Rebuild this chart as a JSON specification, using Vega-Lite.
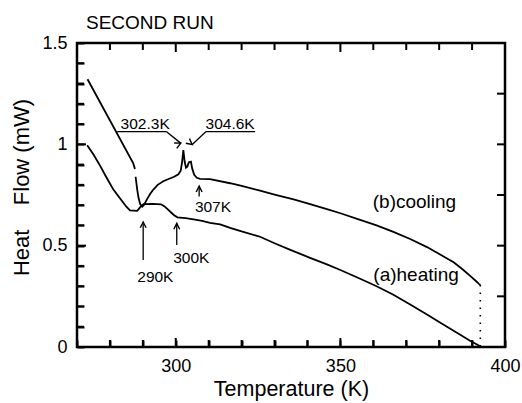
{
  "$schema": "https://vega.github.io/schema/vega-lite/v6.json",
  "width": 428,
  "height": 304,
  "autosize": {"type": "none"},
  "padding": {"left": 77, "top": 43, "right": 17, "bottom": 56},
  "background": "white",
  "title": {"text": "SECOND RUN", "anchor": "start", "frame": "group", "dx": 9, "offset": 1, "fontSize": 19, "fontWeight": "normal", "font": "Liberation Sans", "color": "black"},
  "config": {
    "view": {"stroke": "black", "strokeWidth": 2.5},
    "font": "Liberation Sans",
    "axis": {"grid": false, "domain": false, "ticks": true, "tickOpacity": 1, "tickColor": "black", "tickWidth": 2, "labelColor": "black", "titleColor": "black", "labelFont": "Liberation Sans", "titleFont": "Liberation Sans", "labelFontSize": 18, "titleFontSize": 21.5, "titleFontWeight": "normal", "labelOverlap": false, "labelFlush": false, "zindex": 1}
  },
  "datasets": {
    "curves": [
      {"series": "cooling", "seg": "c1", "T": 273.2, "HF": 1.321},
      {"series": "cooling", "seg": "c1", "T": 287.1, "HF": 0.906},
      {"series": "cooling", "seg": "c1", "T": 287.6, "HF": 0.878},
      {"series": "cooling", "seg": "c2", "T": 287.8, "HF": 0.840},
      {"series": "cooling", "seg": "c2", "T": 288.3, "HF": 0.775},
      {"series": "cooling", "seg": "c2", "T": 288.7, "HF": 0.735},
      {"series": "cooling", "seg": "c2", "T": 289.2, "HF": 0.705},
      {"series": "cooling", "seg": "c2", "T": 289.8, "HF": 0.692},
      {"series": "cooling", "seg": "c2", "T": 290.3, "HF": 0.700},
      {"series": "cooling", "seg": "c2", "T": 291.2, "HF": 0.727},
      {"series": "cooling", "seg": "c2", "T": 292.2, "HF": 0.755},
      {"series": "cooling", "seg": "c2", "T": 293.2, "HF": 0.777},
      {"series": "cooling", "seg": "c2", "T": 294.5, "HF": 0.800},
      {"series": "cooling", "seg": "c2", "T": 296.2, "HF": 0.818},
      {"series": "cooling", "seg": "c2", "T": 298.0, "HF": 0.830},
      {"series": "cooling", "seg": "c2", "T": 299.5, "HF": 0.840},
      {"series": "cooling", "seg": "c2", "T": 300.8, "HF": 0.852},
      {"series": "cooling", "seg": "c2", "T": 301.5, "HF": 0.870},
      {"series": "cooling", "seg": "c2", "T": 301.9, "HF": 0.910},
      {"series": "cooling", "seg": "c2", "T": 302.3, "HF": 0.972},
      {"series": "cooling", "seg": "c2", "T": 302.7, "HF": 0.915},
      {"series": "cooling", "seg": "c2", "T": 303.1, "HF": 0.885},
      {"series": "cooling", "seg": "c2", "T": 303.5, "HF": 0.890},
      {"series": "cooling", "seg": "c2", "T": 304.0, "HF": 0.912},
      {"series": "cooling", "seg": "c2", "T": 304.6, "HF": 0.915},
      {"series": "cooling", "seg": "c2", "T": 305.0, "HF": 0.880},
      {"series": "cooling", "seg": "c2", "T": 305.6, "HF": 0.850},
      {"series": "cooling", "seg": "c2", "T": 306.4, "HF": 0.835},
      {"series": "cooling", "seg": "c2", "T": 307.4, "HF": 0.830},
      {"series": "cooling", "seg": "c2", "T": 310.4, "HF": 0.828},
      {"series": "cooling", "seg": "c2", "T": 316.5, "HF": 0.808},
      {"series": "cooling", "seg": "c2", "T": 320.0, "HF": 0.795},
      {"series": "cooling", "seg": "c2", "T": 325.6, "HF": 0.771},
      {"series": "cooling", "seg": "c2", "T": 330.0, "HF": 0.752},
      {"series": "cooling", "seg": "c2", "T": 335.8, "HF": 0.728},
      {"series": "cooling", "seg": "c2", "T": 340.8, "HF": 0.705},
      {"series": "cooling", "seg": "c2", "T": 345.9, "HF": 0.680},
      {"series": "cooling", "seg": "c2", "T": 350.0, "HF": 0.660},
      {"series": "cooling", "seg": "c2", "T": 356.0, "HF": 0.627},
      {"series": "cooling", "seg": "c2", "T": 361.0, "HF": 0.600},
      {"series": "cooling", "seg": "c2", "T": 366.1, "HF": 0.568},
      {"series": "cooling", "seg": "c2", "T": 371.2, "HF": 0.533},
      {"series": "cooling", "seg": "c2", "T": 376.3, "HF": 0.493},
      {"series": "cooling", "seg": "c2", "T": 380.3, "HF": 0.456},
      {"series": "cooling", "seg": "c2", "T": 384.4, "HF": 0.418},
      {"series": "cooling", "seg": "c2", "T": 387.0, "HF": 0.385},
      {"series": "cooling", "seg": "c2", "T": 389.5, "HF": 0.350},
      {"series": "cooling", "seg": "c2", "T": 391.0, "HF": 0.328},
      {"series": "cooling", "seg": "c2", "T": 392.0, "HF": 0.313},
      {"series": "cooling", "seg": "c2", "T": 392.5, "HF": 0.306},
      {"series": "heating", "seg": "h", "T": 273.1, "HF": 0.995},
      {"series": "heating", "seg": "h", "T": 275.0, "HF": 0.950},
      {"series": "heating", "seg": "h", "T": 277.0, "HF": 0.895},
      {"series": "heating", "seg": "h", "T": 279.0, "HF": 0.835},
      {"series": "heating", "seg": "h", "T": 281.0, "HF": 0.778},
      {"series": "heating", "seg": "h", "T": 283.1, "HF": 0.733},
      {"series": "heating", "seg": "h", "T": 285.0, "HF": 0.692},
      {"series": "heating", "seg": "h", "T": 286.1, "HF": 0.674},
      {"series": "heating", "seg": "h", "T": 288.3, "HF": 0.672},
      {"series": "heating", "seg": "h", "T": 289.2, "HF": 0.690},
      {"series": "heating", "seg": "h", "T": 290.2, "HF": 0.705},
      {"series": "heating", "seg": "h", "T": 293.0, "HF": 0.706},
      {"series": "heating", "seg": "h", "T": 295.5, "HF": 0.704},
      {"series": "heating", "seg": "h", "T": 296.5, "HF": 0.695},
      {"series": "heating", "seg": "h", "T": 297.5, "HF": 0.680},
      {"series": "heating", "seg": "h", "T": 298.5, "HF": 0.665},
      {"series": "heating", "seg": "h", "T": 299.5, "HF": 0.650},
      {"series": "heating", "seg": "h", "T": 300.5, "HF": 0.640},
      {"series": "heating", "seg": "h", "T": 303.0, "HF": 0.636},
      {"series": "heating", "seg": "h", "T": 305.4, "HF": 0.630},
      {"series": "heating", "seg": "h", "T": 308.0, "HF": 0.622},
      {"series": "heating", "seg": "h", "T": 310.4, "HF": 0.612},
      {"series": "heating", "seg": "h", "T": 313.5, "HF": 0.605},
      {"series": "heating", "seg": "h", "T": 316.5, "HF": 0.588},
      {"series": "heating", "seg": "h", "T": 320.0, "HF": 0.570},
      {"series": "heating", "seg": "h", "T": 325.6, "HF": 0.544},
      {"series": "heating", "seg": "h", "T": 330.0, "HF": 0.512},
      {"series": "heating", "seg": "h", "T": 334.8, "HF": 0.479},
      {"series": "heating", "seg": "h", "T": 340.8, "HF": 0.440},
      {"series": "heating", "seg": "h", "T": 345.9, "HF": 0.408},
      {"series": "heating", "seg": "h", "T": 350.0, "HF": 0.380},
      {"series": "heating", "seg": "h", "T": 356.0, "HF": 0.337},
      {"series": "heating", "seg": "h", "T": 361.0, "HF": 0.300},
      {"series": "heating", "seg": "h", "T": 366.1, "HF": 0.258},
      {"series": "heating", "seg": "h", "T": 371.2, "HF": 0.210},
      {"series": "heating", "seg": "h", "T": 376.3, "HF": 0.160},
      {"series": "heating", "seg": "h", "T": 381.0, "HF": 0.113},
      {"series": "heating", "seg": "h", "T": 386.4, "HF": 0.060},
      {"series": "heating", "seg": "h", "T": 389.5, "HF": 0.030},
      {"series": "heating", "seg": "h", "T": 391.5, "HF": 0.012},
      {"series": "heating", "seg": "h", "T": 392.5, "HF": 0.003}
    ],
    "drop": [
      {"T": 392.5, "HF": 0.306},
      {"T": 392.5, "HF": 0.0}
    ],
    "segments": [
      {"T": 282.2, "HF": 1.063, "T2": 297.1, "HF2": 1.063},
      {"T": 297.1, "HF": 1.063, "T2": 301.5, "HF2": 1.006},
      {"T": 309.2, "HF": 1.063, "T2": 324.1, "HF2": 1.063},
      {"T": 309.2, "HF": 1.063, "T2": 305.0, "HF2": 0.999},
      {"T": 290.1, "HF": 0.429, "T2": 290.1, "HF2": 0.617},
      {"T": 300.3, "HF": 0.503, "T2": 300.3, "HF2": 0.610},
      {"T": 307.1, "HF": 0.742, "T2": 307.1, "HF2": 0.794}
    ],
    "heads": [
      {"T": 290.1, "HF": 0.617, "dir": "up"},
      {"T": 300.3, "HF": 0.610, "dir": "up"},
      {"T": 307.1, "HF": 0.794, "dir": "up"},
      {"T": 301.5, "HF": 1.006, "dir": "down-right"},
      {"T": 305.0, "HF": 0.999, "dir": "down-left"}
    ],
    "notes": [
      {"T": 290.7, "HF": 1.076, "text": "302.3K"},
      {"T": 316.5, "HF": 1.076, "text": "304.6K"},
      {"T": 311.3, "HF": 0.668, "text": "307K"},
      {"T": 293.8, "HF": 0.322, "text": "290K"},
      {"T": 304.7, "HF": 0.414, "text": "300K"}
    ],
    "labels": [
      {"T": 372.5, "HF": 0.684, "text": "(b)cooling"},
      {"T": 373.0, "HF": 0.326, "text": "(a)heating"}
    ],
    "xticks": [
      {"T": 280, "kind": "minor"}, {"T": 290, "kind": "minor"}, {"T": 300, "kind": "major"},
      {"T": 310, "kind": "minor"}, {"T": 320, "kind": "minor"}, {"T": 330, "kind": "minor"},
      {"T": 340, "kind": "minor"}, {"T": 350, "kind": "major"}, {"T": 360, "kind": "minor"},
      {"T": 370, "kind": "minor"}, {"T": 380, "kind": "minor"}, {"T": 390, "kind": "minor"}
    ],
    "yticks": [
      {"HF": 0.1, "kind": "minor"}, {"HF": 0.2, "kind": "minor"}, {"HF": 0.3, "kind": "minor"},
      {"HF": 0.4, "kind": "minor"}, {"HF": 0.5, "kind": "major"}, {"HF": 0.6, "kind": "minor"},
      {"HF": 0.7, "kind": "minor"}, {"HF": 0.8, "kind": "minor"}, {"HF": 0.9, "kind": "minor"},
      {"HF": 1.0, "kind": "major"}, {"HF": 1.1, "kind": "minor"}, {"HF": 1.2, "kind": "minor"},
      {"HF": 1.3, "kind": "minor"}, {"HF": 1.4, "kind": "minor"}
    ],
    "rticks": [
      {"HF": 0.25}, {"HF": 0.5}, {"HF": 0.75}, {"HF": 1.0}, {"HF": 1.25}
    ]
  },
  "layer": [
    {
      "data": {"name": "curves"},
      "mark": {"type": "line", "color": "black", "strokeWidth": 1.8},
      "encoding": {
        "x": {"field": "T", "type": "quantitative", "scale": {"domain": [270, 400], "nice": false, "zero": false},
          "axis": {"orient": "bottom", "title": "Temperature (K)", "values": [270, 280, 290, 300, 310, 320, 330, 340, 350, 360, 370, 380, 390, 400],
            "labelExpr": "(datum.value == 300 || datum.value == 350 || datum.value == 400) ? datum.label : ''",
            "tickSize": -7, "labelPadding": 17, "titlePadding": 3}},
        "y": {"field": "HF", "type": "quantitative", "scale": {"domain": [0, 1.5], "nice": false, "zero": false},
          "axis": {"orient": "left", "title": "Heat\u00a0\u00a0\u00a0 Flow (mW)", "values": [0, 0.1, 0.2, 0.3, 0.4, 0.5, 0.6, 0.7, 0.8, 0.9, 1, 1.1, 1.2, 1.3, 1.4, 1.5],
            "labelExpr": "(datum.value == 0 || datum.value == 0.5 || datum.value == 1 || datum.value == 1.5) ? format(datum.value, '~g') : ''",
            "tickSize": -7, "labelPadding": 17, "titlePadding": 8, "titleFontSize": 22, "titleY": 144}},
        "detail": {"field": "seg", "type": "nominal"}
      }
    },
    {
      "data": {"name": "drop"},
      "mark": {"type": "line", "color": "black", "strokeWidth": 1.6, "strokeDash": [1.5, 6]},
      "encoding": {
        "x": {"field": "T", "type": "quantitative", "axis": null},
        "y": {"field": "HF", "type": "quantitative", "axis": null}
      }
    },
    {
      "data": {"name": "segments"},
      "mark": {"type": "rule", "color": "black", "strokeWidth": 1.3},
      "encoding": {
        "x": {"field": "T", "type": "quantitative", "axis": null},
        "y": {"field": "HF", "type": "quantitative", "axis": null},
        "x2": {"field": "T2"},
        "y2": {"field": "HF2"}
      }
    },
    {
      "data": {"name": "heads"},
      "mark": {"type": "point", "shape": "M-0.7,1.4L0,0L0.7,1.4", "filled": false, "stroke": "black", "strokeWidth": 1.4, "size": 70, "opacity": 1},
      "encoding": {
        "x": {"field": "T", "type": "quantitative", "axis": null},
        "y": {"field": "HF", "type": "quantitative", "axis": null},
        "angle": {"field": "dir", "type": "nominal", "scale": {"domain": ["up", "down-right", "down-left"], "range": [0, 128, 227]}, "legend": null}
      }
    },
    {
      "data": {"name": "notes"},
      "mark": {"type": "text", "font": "Liberation Sans", "fontSize": 15.5, "color": "black", "align": "center", "baseline": "alphabetic"},
      "encoding": {
        "x": {"field": "T", "type": "quantitative", "axis": null},
        "y": {"field": "HF", "type": "quantitative", "axis": null},
        "text": {"field": "text"}
      }
    },
    {
      "data": {"name": "labels"},
      "mark": {"type": "text", "font": "Liberation Sans", "fontSize": 19, "color": "black", "align": "center", "baseline": "alphabetic"},
      "encoding": {
        "x": {"field": "T", "type": "quantitative", "axis": null},
        "y": {"field": "HF", "type": "quantitative", "axis": null},
        "text": {"field": "text"}
      }
    },
    {
      "data": {"name": "xticks"},
      "transform": [{"filter": "datum.kind == 'minor'"}],
      "mark": {"type": "rule", "color": "black", "strokeWidth": 2},
      "encoding": {
        "x": {"field": "T", "type": "quantitative", "axis": null},
        "y": {"datum": 0, "type": "quantitative", "axis": null},
        "y2": {"datum": 0.0345}
      }
    },
    {
      "data": {"name": "xticks"},
      "transform": [{"filter": "datum.kind == 'major'"}],
      "mark": {"type": "rule", "color": "black", "strokeWidth": 2},
      "encoding": {
        "x": {"field": "T", "type": "quantitative", "axis": null},
        "y": {"datum": 0, "type": "quantitative", "axis": null},
        "y2": {"datum": 0.0444}
      }
    },
    {
      "data": {"name": "xticks"},
      "transform": [{"filter": "datum.kind == 'minor'"}],
      "mark": {"type": "rule", "color": "black", "strokeWidth": 2},
      "encoding": {
        "x": {"field": "T", "type": "quantitative", "axis": null},
        "y": {"datum": 1.5, "type": "quantitative", "axis": null},
        "y2": {"datum": 1.4655}
      }
    },
    {
      "data": {"name": "xticks"},
      "transform": [{"filter": "datum.kind == 'major'"}],
      "mark": {"type": "rule", "color": "black", "strokeWidth": 2},
      "encoding": {
        "x": {"field": "T", "type": "quantitative", "axis": null},
        "y": {"datum": 1.5, "type": "quantitative", "axis": null},
        "y2": {"datum": 1.4556}
      }
    },
    {
      "data": {"name": "yticks"},
      "transform": [{"filter": "datum.kind == 'minor'"}],
      "mark": {"type": "rule", "color": "black", "strokeWidth": 2},
      "encoding": {
        "y": {"field": "HF", "type": "quantitative", "axis": null},
        "x": {"datum": 270, "type": "quantitative", "axis": null},
        "x2": {"datum": 272.13}
      }
    },
    {
      "data": {"name": "yticks"},
      "transform": [{"filter": "datum.kind == 'major'"}],
      "mark": {"type": "rule", "color": "black", "strokeWidth": 2},
      "encoding": {
        "y": {"field": "HF", "type": "quantitative", "axis": null},
        "x": {"datum": 270, "type": "quantitative", "axis": null},
        "x2": {"datum": 272.73}
      }
    },
    {
      "data": {"name": "rticks"},
      "mark": {"type": "rule", "color": "black", "strokeWidth": 2},
      "encoding": {
        "y": {"field": "HF", "type": "quantitative", "axis": null},
        "x": {"datum": 400, "type": "quantitative", "axis": null},
        "x2": {"datum": 397.57}
      }
    }
  ],
  "resolve": {"axis": {"x": "independent", "y": "independent"}}
}
